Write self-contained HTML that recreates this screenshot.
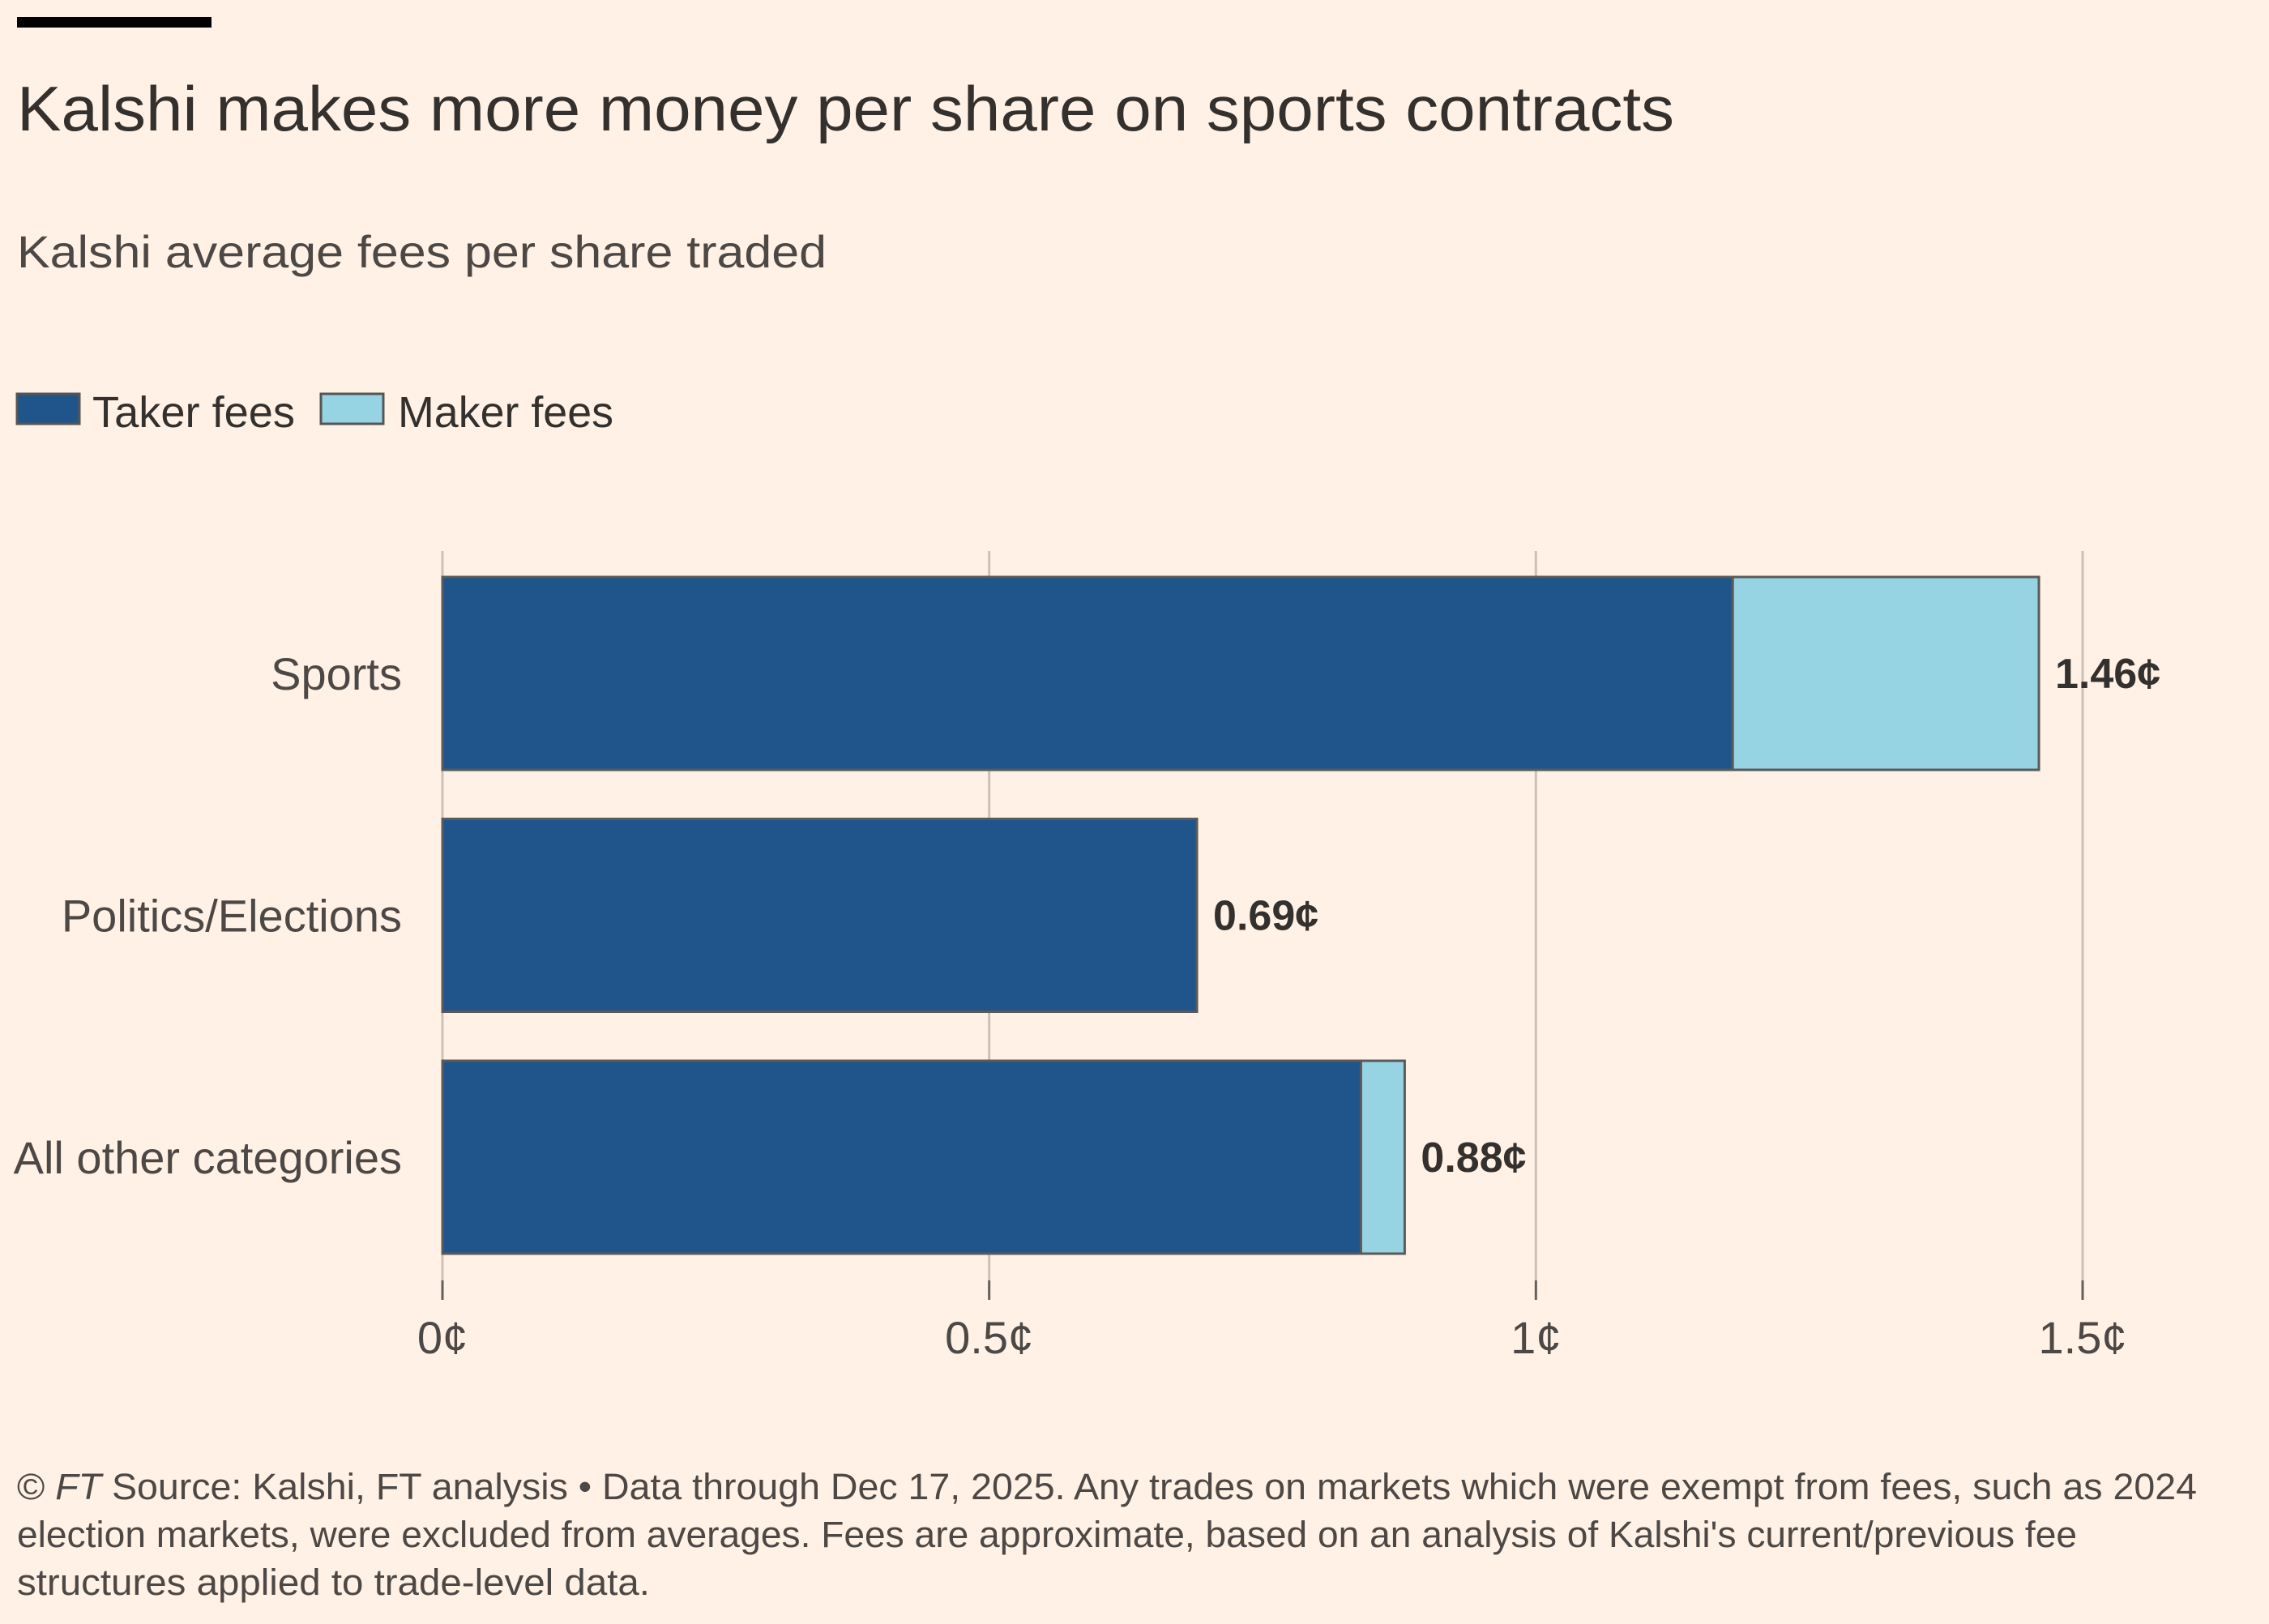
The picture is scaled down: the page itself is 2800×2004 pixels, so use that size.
<!DOCTYPE html>
<html><head><meta charset="utf-8"><style>
html,body{margin:0;padding:0;background:#fff1e5;}
svg{display:block;font-family:"Liberation Sans",sans-serif;}
</style></head><body>
<svg id="chart" width="2800" height="2004" viewBox="0 0 2800 2004">
<rect width="2800" height="2004" fill="#fff1e5"/>
<rect x="21" y="21" width="240" height="13" fill="#000"/>
<text x="21" y="161" font-size="78" fill="#33302e" textLength="2045" lengthAdjust="spacingAndGlyphs">Kalshi makes more money per share on sports contracts</text>
<text x="21" y="330" font-size="56" fill="#4d4845" textLength="999" lengthAdjust="spacingAndGlyphs">Kalshi average fees per share traded</text>
<g>
<rect x="21" y="486" width="77" height="37" fill="#1f558a" stroke="#555" stroke-width="3"/>
<text x="114" y="527" font-size="54" fill="#33302e" textLength="250" lengthAdjust="spacingAndGlyphs">Taker fees</text>
<rect x="396" y="486" width="77" height="37" fill="#96d4e4" stroke="#555" stroke-width="3"/>
<text x="491" y="527" font-size="54" fill="#33302e" textLength="266" lengthAdjust="spacingAndGlyphs">Maker fees</text>
</g>
<g id="plot"></g>
<g font-size="45" fill="#4d4845">
<text x="21" y="1850" textLength="2690" lengthAdjust="spacingAndGlyphs">© <tspan font-style="italic">FT</tspan> Source: Kalshi, FT analysis • Data through Dec 17, 2025. Any trades on markets which were exempt from fees, such as 2024</text>
<text x="21" y="1909" textLength="2542" lengthAdjust="spacingAndGlyphs">election markets, were excluded from averages. Fees are approximate, based on an analysis of Kalshi's current/previous fee</text>
<text x="21" y="1968" textLength="781" lengthAdjust="spacingAndGlyphs">structures applied to trade-level data.</text>
</g>
</svg>
<script>
const categories = ["Sports", "Politics/Elections", "All other categories"];
const takerFees = [1.18, 0.69, 0.84];
const makerFees = [0.28, 0, 0.04];
const totalLabels = ["1.46¢", "0.69¢", "0.88¢"];
const tickValues = [0, 0.5, 1, 1.5];
const tickLabels = ["0¢", "0.5¢", "1¢", "1.5¢"];

const NS = "http://www.w3.org/2000/svg";
const plot = document.getElementById("plot");
const X0 = 546, XK = (2570 - 546) / 1.5;
const xs = v => X0 + v * XK;
const yTop = i => 712 + i * 298.5;
const BH = 238;
function mk(tag, attrs, text) {
  const e = document.createElementNS(NS, tag);
  for (const k in attrs) e.setAttribute(k, attrs[k]);
  if (text !== undefined) e.textContent = text;
  plot.appendChild(e);
  return e;
}
tickValues.forEach((v, i) => {
  const g = mk("line", {x1: xs(v), x2: xs(v), y1: 680, y2: 1580, stroke: "#ccc1b7", "stroke-width": 3});
  
  
  const t = mk("line", {x1: xs(v), x2: xs(v), y1: 1580, y2: 1604, stroke: "#66605c", "stroke-width": 3});
  
  
  const l = mk("text", {x: xs(v), y: 1670, "font-size": 56, fill: "#4d4845", "text-anchor": "middle"}, tickLabels[i]);
  
  
});
categories.forEach((c, i) => {
  const y = yTop(i);
  const lab = mk("text", {x: 496, y: y + BH / 2 + 20, "font-size": 56, fill: "#4d4845", "text-anchor": "end"}, c);
  
  
  const b1 = mk("rect", {x: xs(0), y: y, width: xs(takerFees[i]) - xs(0), height: BH, fill: "#1f558a", stroke: "#5a5a5a", "stroke-width": 3});
  
  
  const end = takerFees[i] + makerFees[i];
  if (makerFees[i] > 0) {
    const b2 = mk("rect", {x: xs(takerFees[i]), y: y, width: xs(end) - xs(takerFees[i]), height: BH, fill: "#96d4e4", stroke: "#5a5a5a", "stroke-width": 3});
    
    
  }
  const v = mk("text", {x: xs(end) + 20, y: y + BH / 2 + 18, "font-size": 52, "font-weight": "bold", fill: "#33302e"}, totalLabels[i]);
  
  
});
</script>
</body></html>
